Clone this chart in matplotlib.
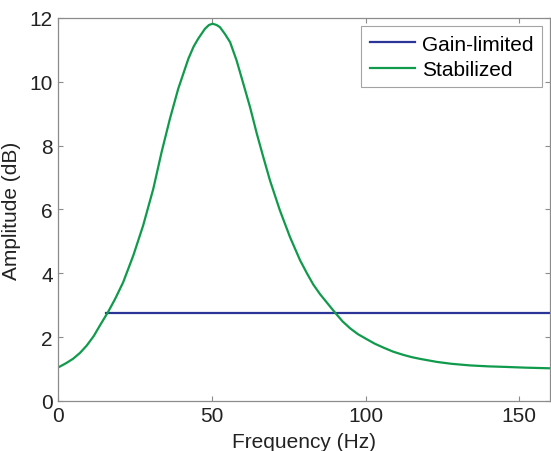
import matplotlib
matplotlib.use("Agg")
import matplotlib.pyplot as plt

# Frequency response values
freq_hz = [0, 2.5, 4.8, 7, 9.2, 11.5, 13.5, 16.2, 18.5, 21.1, 24.4, 27.6,
           30.9, 33.6, 36.3, 39.0, 42.3, 44, 45.5, 47.7, 49, 50.2, 51.5, 52.6,
           54.2, 55.9, 58, 60.2, 62.4, 64.6, 66.7, 68.9, 72.1, 75.4, 78.7, 81,
           83, 85.2, 88.4, 90.1, 92.5, 95, 97.5, 100.4, 103, 106, 109, 112.3,
           115, 118, 123.2, 128, 134, 140, 144.9, 152, 160]
stabilized_db = [1.05, 1.18, 1.32, 1.5, 1.73, 2.03, 2.36, 2.79, 3.2, 3.72,
                 4.56, 5.5, 6.65, 7.8, 8.84, 9.78, 10.72, 11.1, 11.35, 11.66,
                 11.78, 11.82, 11.78, 11.71, 11.5, 11.24, 10.67, 9.94, 9.2,
                 8.37, 7.64, 6.9, 5.97, 5.13, 4.4, 3.98, 3.64, 3.34, 2.96, 2.76,
                 2.49, 2.27, 2.09, 1.93, 1.79, 1.66, 1.54, 1.44, 1.37, 1.31,
                 1.22, 1.16, 1.11, 1.08, 1.065, 1.04, 1.02]

gain_freq = [15.5, 160]
gain_limited_db = [2.76, 2.76]

plt.rcParams["font.family"] = ["Liberation Sans", "DejaVu Sans"]

fig = plt.figure(figsize=(5.51, 4.52), dpi=100)
ax = fig.add_axes([0.106, 0.111, 0.892, 0.847])

ax.plot(gain_freq, gain_limited_db, color="#2b3497", lw=1.6, label="Gain-limited")
ax.plot(freq_hz, stabilized_db, color="#0f9a4c", lw=1.6, label="Stabilized")

ax.set_xlim(0, 160)
ax.set_ylim(0, 12)
ax.set_xticks([0, 50, 100, 150])
ax.set_yticks([0, 2, 4, 6, 8, 10, 12])

for s in ax.spines.values():
    s.set_color("#8c8c8c")
    s.set_linewidth(0.9)
ax.tick_params(direction="in", length=3.5, width=0.8, color="#8c8c8c",
               top=True, right=True, labelsize=15, labelcolor="#222222", pad=4)

# keep the label just inside the bottom edge
ax.set_xlabel("Frequency (Hz)", fontsize=15, color="#222222", labelpad=5)
ax.set_ylabel("Amplitude (dB)", fontsize=15, color="#222222", labelpad=6)

leg = ax.legend(loc="upper right", fontsize=15, frameon=True, fancybox=False,
                borderaxespad=0.4, handlelength=2.2, handletextpad=0.3,
                borderpad=0.4, labelspacing=0.3)
leg.get_frame().set_edgecolor("#8c8c8c")
leg.get_frame().set_linewidth(0.8)

fig.savefig("out.png", dpi=100)
